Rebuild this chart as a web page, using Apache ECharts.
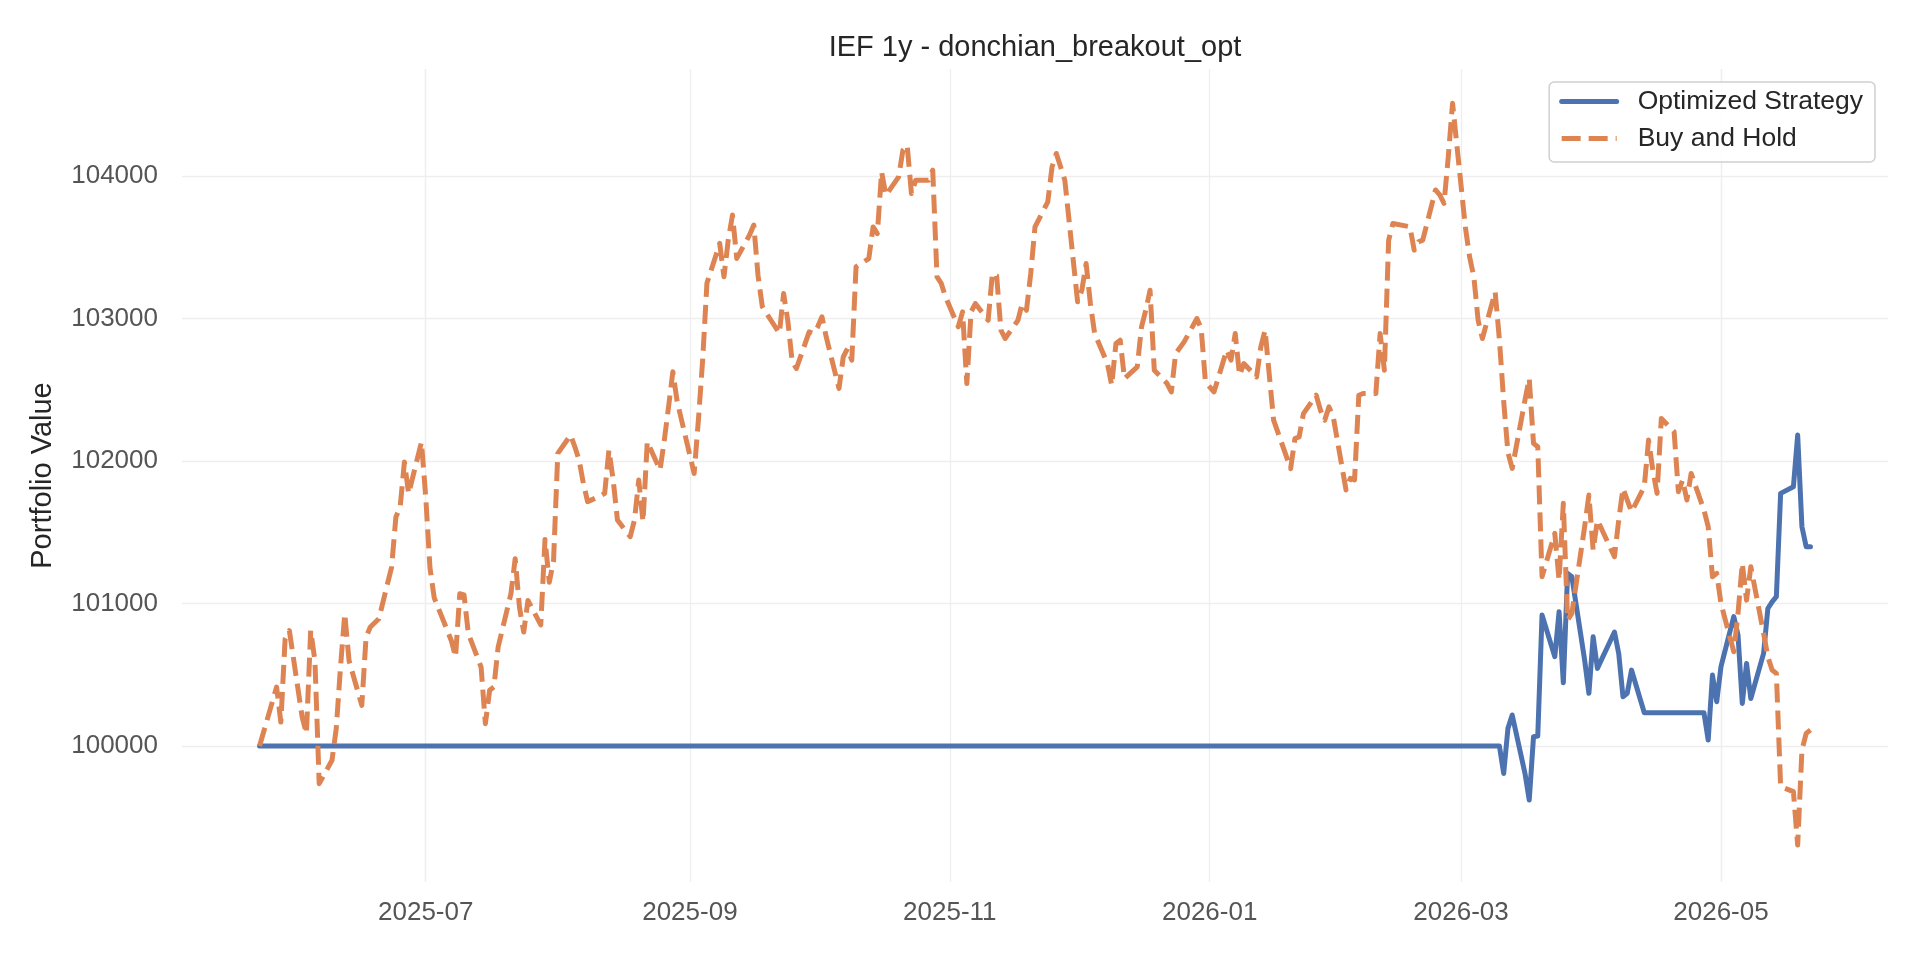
<!DOCTYPE html>
<html>
<head>
<meta charset="utf-8">
<script src="https://cdn.jsdelivr.net/npm/echarts@6/dist/echarts.min.js"></script>
<style>
html,body{margin:0;padding:0;background:#ffffff;}
#chart{width:1920px;height:960px;}
</style>
</head>
<body>
<div id="chart"></div>
<script>
// Trading days (x categories)
const dates = [
'2025-05-23','2025-05-27','2025-05-28','2025-05-29','2025-05-30',
'2025-06-02','2025-06-03','2025-06-04','2025-06-05','2025-06-06','2025-06-09','2025-06-10','2025-06-11','2025-06-12','2025-06-13',
'2025-06-16','2025-06-17','2025-06-18','2025-06-20','2025-06-23','2025-06-24','2025-06-25','2025-06-26','2025-06-27','2025-06-30',
'2025-07-01','2025-07-02','2025-07-03','2025-07-07','2025-07-08','2025-07-09','2025-07-10','2025-07-11','2025-07-14','2025-07-15',
'2025-07-16','2025-07-17','2025-07-18','2025-07-21','2025-07-22','2025-07-23','2025-07-24','2025-07-25','2025-07-28','2025-07-29',
'2025-07-30','2025-07-31',
'2025-08-01','2025-08-04','2025-08-05','2025-08-06','2025-08-07','2025-08-08','2025-08-11','2025-08-12','2025-08-13','2025-08-14',
'2025-08-15','2025-08-18','2025-08-19','2025-08-20','2025-08-21','2025-08-22','2025-08-25','2025-08-26','2025-08-27','2025-08-28',
'2025-08-29',
'2025-09-02','2025-09-03','2025-09-04','2025-09-05','2025-09-08','2025-09-09','2025-09-10','2025-09-11','2025-09-12','2025-09-15',
'2025-09-16','2025-09-17','2025-09-18','2025-09-19','2025-09-22','2025-09-23','2025-09-24','2025-09-25','2025-09-26','2025-09-29',
'2025-09-30',
'2025-10-01','2025-10-02','2025-10-03','2025-10-06','2025-10-07','2025-10-08','2025-10-09','2025-10-10','2025-10-13','2025-10-14',
'2025-10-15','2025-10-16','2025-10-17','2025-10-20','2025-10-21','2025-10-22','2025-10-23','2025-10-24','2025-10-27','2025-10-28',
'2025-10-29','2025-10-30','2025-10-31',
'2025-11-03','2025-11-04','2025-11-05','2025-11-06','2025-11-07','2025-11-10','2025-11-11','2025-11-12','2025-11-13','2025-11-14',
'2025-11-17','2025-11-18','2025-11-19','2025-11-20','2025-11-21','2025-11-24','2025-11-25','2025-11-26','2025-11-28',
'2025-12-01','2025-12-02','2025-12-03','2025-12-04','2025-12-05','2025-12-08','2025-12-09','2025-12-10','2025-12-11','2025-12-12',
'2025-12-15','2025-12-16','2025-12-17','2025-12-18','2025-12-19','2025-12-22','2025-12-23','2025-12-24','2025-12-26','2025-12-29',
'2025-12-30','2025-12-31',
'2026-01-02','2026-01-05','2026-01-06','2026-01-07','2026-01-08','2026-01-09','2026-01-12','2026-01-13','2026-01-14','2026-01-15',
'2026-01-16','2026-01-20','2026-01-21','2026-01-22','2026-01-23','2026-01-26','2026-01-27','2026-01-28','2026-01-29','2026-01-30',
'2026-02-02','2026-02-03','2026-02-04','2026-02-05','2026-02-06','2026-02-09','2026-02-10','2026-02-11','2026-02-12','2026-02-13',
'2026-02-17','2026-02-18','2026-02-19','2026-02-20','2026-02-23','2026-02-24','2026-02-25','2026-02-26','2026-02-27',
'2026-03-02','2026-03-03','2026-03-04','2026-03-05','2026-03-06','2026-03-09','2026-03-10','2026-03-11','2026-03-12','2026-03-13',
'2026-03-16','2026-03-17','2026-03-18','2026-03-19','2026-03-20','2026-03-23','2026-03-24','2026-03-25','2026-03-26','2026-03-27',
'2026-03-30','2026-03-31',
'2026-04-01','2026-04-02','2026-04-06','2026-04-07','2026-04-08','2026-04-09','2026-04-10','2026-04-13','2026-04-14','2026-04-15',
'2026-04-16','2026-04-17','2026-04-20','2026-04-21','2026-04-22','2026-04-23','2026-04-24','2026-04-27','2026-04-28','2026-04-29',
'2026-04-30',
'2026-05-01','2026-05-04','2026-05-05','2026-05-06','2026-05-07','2026-05-08','2026-05-11','2026-05-12','2026-05-13','2026-05-14',
'2026-05-15','2026-05-18','2026-05-19','2026-05-20','2026-05-21','2026-05-22'
];

// Buy and Hold portfolio value
const buyHold = [
100000,100414,100168,100750,100810,
100203,100087,100812,100600,99736,99900,100122,100554,100929,100600,
100285,100765,100835,100893,101256,101607,101677,101993,101771,102133,
101750,101250,101040,100741,100625,101069,101060,100790,100554,100157,
100391,100414,100695,101069,101315,100975,100800,101022,100850,101450,
101150,101300,
102054,102182,102100,102007,101843,101715,101755,101773,102077,101867,
101586,101469,101586,101867,101574,102136,101937,102147,102381,102627,
102420,
101913,102288,102709,103247,103527,103293,103550,103726,103422,103586,
103656,103300,103083,103036,102896,103176,102980,102700,102649,102906,
102895,
102942,103012,102871,102509,102731,102789,102708,103363,103421,103643,
103596,104029,103865,103994,104181,104216,103877,103971,103971,104041,
103292,103246,103152,
102942,103047,102544,103047,103105,102988,103316,103300,102918,102860,
102988,103105,103058,103316,103643,103819,104064,104158,103971,
103117,103199,103386,103105,102895,102684,102532,102825,102848,102579,
102661,102942,103058,103199,102637,102544,102485,102754,102836,103000,
102930,102556,
102485,102778,102708,102895,102602,102684,102590,102801,102918,102600,
102287,101947,102158,102170,102333,102462,102357,102287,102380,102310,
101797,101879,101868,102462,102474,102474,102895,102637,103550,103667,
103644,103480,103538,103550,103902,103867,103808,104136,104510,
103643,103433,103292,102988,102860,103187,102850,102420,102060,101948,
102428,102580,102124,102100,101188,101492,101165,101703,100884,100931,
101539,101761,
101375,101586,101329,101586,101808,101726,101644,101820,102147,101937,
101773,102299,102206,101785,101867,101726,101913,101656,101539,101188,
101212,
101000,100662,100931,101282,101024,101258,100791,100627,100533,100510,
99715,99680,99305,99972,100089,100112
];

// Optimized Strategy portfolio value
const strategy = [
100000,100000,100000,100000,100000,
100000,100000,100000,100000,100000,100000,100000,100000,100000,100000,
100000,100000,100000,100000,100000,100000,100000,100000,100000,100000,
100000,100000,100000,100000,100000,100000,100000,100000,100000,100000,
100000,100000,100000,100000,100000,100000,100000,100000,100000,100000,
100000,100000,
100000,100000,100000,100000,100000,100000,100000,100000,100000,100000,
100000,100000,100000,100000,100000,100000,100000,100000,100000,100000,
100000,
100000,100000,100000,100000,100000,100000,100000,100000,100000,100000,
100000,100000,100000,100000,100000,100000,100000,100000,100000,100000,
100000,
100000,100000,100000,100000,100000,100000,100000,100000,100000,100000,
100000,100000,100000,100000,100000,100000,100000,100000,100000,100000,
100000,100000,100000,
100000,100000,100000,100000,100000,100000,100000,100000,100000,100000,
100000,100000,100000,100000,100000,100000,100000,100000,100000,
100000,100000,100000,100000,100000,100000,100000,100000,100000,100000,
100000,100000,100000,100000,100000,100000,100000,100000,100000,100000,
100000,100000,
100000,100000,100000,100000,100000,100000,100000,100000,100000,100000,
100000,100000,100000,100000,100000,100000,100000,100000,100000,100000,
100000,100000,100000,100000,100000,100000,100000,100000,100000,100000,
100000,100000,100000,100000,100000,100000,100000,100000,100000,
100000,100000,100000,100000,100000,100000,100000,99808,100124,100218,
99808,99621,100065,100070,100919,100627,100943,100444,101212,101188,
100603,100370,
100767,100545,100800,100650,100346,100370,100533,100234,100234,100234,
100234,100234,100234,100234,100234,100234,100234,100234,100042,100498,
100311,
100557,100908,100779,100299,100580,100334,100650,100965,101012,101048,
101773,101820,102182,101539,101399,101399
];

const seriesNames = ['Optimized Strategy', 'Buy and Hold'];
const xTickDates = ['2025-07-01','2025-09-01','2025-11-01','2026-01-01','2026-03-01','2026-05-01'];
const yTickValues = [100000, 101000, 102000, 103000, 104000];
const titleText = 'IEF 1y - donchian_breakout_opt';
const yAxisTitle = 'Portfolio Value';

const ts = s => new Date(s + 'T00:00:00').getTime();
const xStart = ts(dates[0]);
const xEnd = ts(dates[dates.length - 1]);
const xPad = (xEnd - xStart) * 0.05;
const FONT = "'Liberation Sans', Arial, Helvetica, sans-serif";
const LW = 5;

const chart = echarts.init(document.getElementById('chart'), null, {renderer: 'canvas', width: 1920, height: 960});
chart.setOption({
  animation: false,
  backgroundColor: '#ffffff',
  title: {
    text: titleText,
    left: 1035,
    textAlign: 'center',
    top: 33,
    padding: 0,
    textStyle: {fontFamily: FONT, fontSize: 29, fontWeight: 'normal', color: '#262626'}
  },
  legend: {
    orient: 'vertical',
    right: 45,
    top: 82,
    padding: [6, 12, 10, 10],
    itemGap: 10,
    itemWidth: 55,
    itemHeight: 27,
    backgroundColor: 'rgba(255,255,255,0.85)',
    borderColor: '#d0d0d0',
    borderWidth: 1.5,
    borderRadius: 5,
    data: seriesNames,
    itemStyle: {opacity: 0},
    lineStyle: {width: LW},
    textStyle: {fontFamily: FONT, fontSize: 26.5, color: '#262626', padding: [0, 0, 0, 16]}
  },
  grid: {left: 182, right: 32, top: 69, bottom: 78, containLabel: false},
  xAxis: {
    type: 'time',
    min: xStart - xPad,
    max: xEnd + xPad,
    axisLine: {show: false},
    axisTick: {show: false, customValues: xTickDates.map(ts)},
    axisLabel: {
      customValues: xTickDates.map(ts),
      formatter: '{yyyy}-{MM}',
      fontFamily: FONT, fontSize: 26, color: '#555555', margin: 18,
      hideOverlap: false
    },
    splitLine: {show: true, lineStyle: {color: '#eeeeee', width: 1.3}}
  },
  yAxis: {
    type: 'value',
    min: 99046,
    max: 104751,
    name: yAxisTitle,
    nameLocation: 'middle',
    nameRotate: 90,
    nameGap: 125,
    nameTextStyle: {fontFamily: FONT, fontSize: 29, color: '#262626'},
    axisLine: {show: false},
    axisTick: {show: false, customValues: yTickValues},
    axisLabel: {
      customValues: yTickValues,
      formatter: v => String(Math.round(v)),
      fontFamily: FONT, fontSize: 26, color: '#555555', margin: 24
    },
    splitLine: {show: true, lineStyle: {color: '#eeeeee', width: 1.3}}
  },
  series: [
    {
      name: seriesNames[0],
      type: 'line',
      symbol: 'none',
      showSymbol: false,
      data: dates.map((d, i) => [ts(d), strategy[i]]),
      lineStyle: {color: '#4c72b0', width: LW, join: 'round', cap: 'round'},
      itemStyle: {color: '#4c72b0'},
      z: 2
    },
    {
      name: seriesNames[1],
      type: 'line',
      symbol: 'none',
      showSymbol: false,
      data: dates.map((d, i) => [ts(d), buyHold[i]]),
      lineStyle: {color: '#dd8452', width: LW, type: [19, 8], join: 'round', cap: 'butt'},
      itemStyle: {color: '#dd8452'},
      z: 3
    }
  ]
});
</script>
</body>
</html>
